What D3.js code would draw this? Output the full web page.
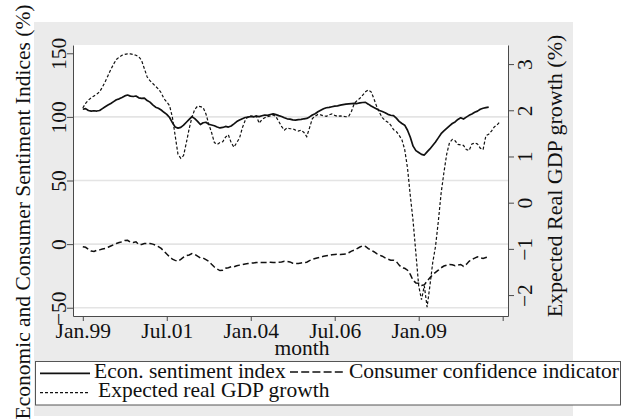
<!DOCTYPE html>
<html>
<head>
<meta charset="utf-8">
<script src="https://cdn.jsdelivr.net/npm/d3@7"></script>
<style>
  body { margin: 0; background: #fff; }
  svg { display: block; }
  text { font-family: "Liberation Serif", "Times New Roman", serif; fill: #111; }
</style>
</head>
<body>
<svg id="chart" width="626" height="419"></svg>
<script>
// Monthly series, index 0 = January 1999
const econSentiment = [
  106.0,106.5,105.0,104.5,104.8,104.6,105.0,106.5,108.0,109.3,
  110.5,112.0,113.5,114.2,115.3,116.5,117.2,116.3,116.0,116.4,
  115.0,114.6,114.8,112.8,111.6,109.5,107.6,106.8,105.4,103.6,
  102.0,99.5,95.5,92.0,91.2,91.8,93.5,95.8,98.0,100.2,
  98.6,96.5,94.0,95.4,95.8,94.2,93.6,93.0,92.0,91.3,
  91.7,92.5,92.0,92.8,94.5,96.3,97.5,98.6,99.5,99.8,
  100.3,100.0,100.6,100.2,100.9,101.5,101.2,101.9,102.4,101.8,
  101.0,100.3,99.3,98.5,98.2,97.6,97.5,97.8,98.0,98.5,
  98.8,100.0,101.5,102.5,104.0,105.2,106.4,107.2,107.5,108.0,
  108.5,108.7,109.2,109.6,110.0,110.2,110.4,110.6,110.5,111.0,
  111.3,111.4,110.0,108.5,107.3,106.2,105.0,104.2,103.3,102.0,
  101.3,101.0,99.0,96.5,94.8,93.5,89.5,84.0,77.0,73.5,
  72.0,70.5,70.0,72.5,74.8,77.5,80.3,83.5,86.8,89.0,
  91.0,93.0,94.8,96.0,98.0,99.3,98.3,99.8,101.2,102.3,
  103.6,104.5,106.0,106.8,107.3,107.7
];
const consumerConfidence = [
  -2.0,-2.5,-4.0,-5.5,-5.8,-4.8,-4.5,-3.8,-3.4,-2.5,
  -1.5,-0.5,0.5,1.2,1.8,2.8,3.0,1.5,1.3,1.8,
  -0.5,-0.3,0.5,0.6,0.4,0.0,-0.8,-2.0,-3.4,-5.5,
  -7.8,-10.0,-11.8,-12.8,-13.4,-12.0,-10.2,-9.0,-8.5,-7.4,
  -8.0,-9.5,-10.8,-11.0,-12.2,-13.5,-15.8,-18.0,-19.6,-20.8,
  -20.5,-19.0,-18.5,-17.8,-17.8,-17.0,-16.5,-16.0,-15.6,-15.2,
  -15.0,-14.8,-14.4,-14.3,-14.4,-14.4,-14.5,-14.3,-14.4,-14.4,
  -14.3,-14.0,-13.5,-13.6,-14.0,-15.0,-15.2,-15.2,-14.8,-14.5,
  -14.2,-13.0,-12.0,-11.3,-10.8,-10.2,-9.6,-9.2,-8.8,-8.3,
  -8.1,-8.0,-8.2,-7.9,-7.8,-6.8,-5.5,-4.7,-3.5,-2.3,
  -1.3,-1.8,-3.5,-4.8,-6.0,-7.5,-8.6,-9.5,-10.8,-11.8,
  -12.6,-12.6,-13.6,-16.5,-18.6,-19.0,-20.5,-23.8,-28.5,-30.5,
  -30.8,-32.5,-32.0,-29.0,-26.5,-24.0,-22.2,-20.5,-18.6,-17.2,
  -16.5,-16.0,-16.2,-17.0,-16.5,-16.0,-17.5,-16.0,-13.5,-12.0,
  -11.0,-10.0,-10.8,-11.3,-10.5,-10.0
];
const expectedGdp = [
  2.05,2.15,2.22,2.27,2.31,2.35,2.40,2.50,2.62,2.75,
  2.88,3.00,3.10,3.15,3.19,3.21,3.22,3.22,3.21,3.19,
  3.16,3.08,2.90,2.72,2.64,2.58,2.52,2.46,2.38,2.25,
  2.18,2.10,1.85,1.45,1.05,0.96,1.02,1.30,1.60,1.85,
  2.02,2.09,2.08,2.06,1.92,1.70,1.52,1.30,1.26,1.30,
  1.32,1.42,1.47,1.30,1.20,1.30,1.40,1.62,1.78,1.86,
  1.88,1.87,1.88,1.72,1.80,1.84,1.86,1.88,1.90,1.86,
  1.76,1.65,1.57,1.62,1.60,1.60,1.57,1.55,1.57,1.52,
  1.43,1.62,1.82,1.87,1.91,1.90,1.88,1.87,1.90,1.92,
  1.89,1.87,1.88,1.87,1.86,1.87,1.98,2.15,2.21,2.26,
  2.33,2.40,2.44,2.40,2.25,2.08,1.95,1.84,1.78,1.74,
  1.68,1.58,1.54,1.46,1.36,1.15,0.75,0.15,-0.40,-1.10,
  -1.80,-2.10,-1.80,-2.26,-1.80,-1.30,-0.95,-0.41,0.20,0.65,
  1.05,1.30,1.37,1.34,1.26,1.25,1.24,1.15,1.13,1.27,
  1.29,1.27,1.18,1.15,1.45,1.48,1.55,1.64,1.68,1.75
];

const xTickMonths = [0, 30, 60, 90, 120, 150];
const xTickLabels = ["Jan.99", "Jul.01", "Jan.04", "Jul.06", "Jan.09", ""];
const leftTicks = [-50, 0, 50, 100, 150];
const leftGridValues = [-50, 0, 50, 100];
const rightTicks = [-2, -1, 0, 1, 2, 3];

const seriesNames = ["Econ. sentiment index", "Consumer confidence indicator", "Expected real GDP growth"];
const xTitle = "month";
const leftTitle = "Economic and Consumer Sentiment Indices (%)";
const rightTitle = "Expected Real GDP growth (%)";

// Layout
const plot = { left: 73, right: 508, top: 45, bottom: 316 };
const ink = "#111";
const axisColor = "#4a4a4a";

const svg = d3.select("#chart");

// Graph region background
svg.append("rect").attr("x", 34).attr("y", 22).attr("width", 539).attr("height", 394).attr("fill", "#ebebeb");
// Plot region
svg.append("rect").attr("x", plot.left).attr("y", plot.top)
  .attr("width", plot.right - plot.left).attr("height", plot.bottom - plot.top).attr("fill", "#fff");

const x = d3.scaleLinear().domain([-3.5, 151.9]).range([plot.left, plot.right]);
const yL = d3.scaleLinear().domain([-56.5, 156.5]).range([plot.bottom, plot.top]);
const yR = d3.scaleLinear().domain([-2.453, 3.413]).range([plot.bottom, plot.top]);

// Horizontal grid lines
svg.append("g").selectAll("line").data(leftGridValues).join("line")
  .attr("x1", plot.left).attr("x2", plot.right)
  .attr("y1", d => yL(d)).attr("y2", d => yL(d))
  .attr("stroke", "#e4e4e4").attr("stroke-width", 1.6);

// Series
const lineL = d3.line().x((d, i) => x(i)).y(d => yL(d));
const lineR = d3.line().x((d, i) => x(i)).y(d => yR(d));

svg.append("path").datum(consumerConfidence).attr("d", lineL)
  .attr("fill", "none").attr("stroke", ink).attr("stroke-width", 1.5)
  .attr("stroke-dasharray", "6,3");
svg.append("path").datum(expectedGdp).attr("d", lineR)
  .attr("fill", "none").attr("stroke", ink).attr("stroke-width", 1.2)
  .attr("stroke-dasharray", "3,2");
svg.append("path").datum(econSentiment).attr("d", lineL)
  .attr("fill", "none").attr("stroke", ink).attr("stroke-width", 1.7)
  .attr("stroke-linejoin", "round");

function styleAxis(g) {
  g.select(".domain").attr("stroke", axisColor).attr("stroke-width", 1);
  g.selectAll(".tick line").attr("stroke", axisColor).attr("stroke-width", 1);
  g.selectAll(".tick text").attr("fill", ink)
    .style("font-family", '"Liberation Serif", "Times New Roman", serif')
    .style("font-size", "21.5px");
}

// Left axis
const gL = svg.append("g").attr("transform", `translate(${plot.left},0)`)
  .call(d3.axisLeft(yL).tickValues(leftTicks).tickSize(6).tickSizeOuter(0).tickFormat(d => d < 0 ? "\u2212" + Math.abs(d) : d));
styleAxis(gL);
gL.selectAll(".tick text").attr("x", null).attr("dy", null)
  .attr("text-anchor", "middle").attr("transform", "translate(-7,0) rotate(-90)");

// Right axis
const gR = svg.append("g").attr("transform", `translate(${plot.right},0)`)
  .call(d3.axisRight(yR).tickValues(rightTicks).tickSize(6).tickSizeOuter(0).tickFormat(d => d < 0 ? "\u2212" + Math.abs(d) : d));
styleAxis(gR);
gR.selectAll(".tick text").attr("x", null).attr("dy", null)
  .attr("text-anchor", "middle").attr("transform", "translate(23.5,0) rotate(-90)");

// Bottom axis
const gB = svg.append("g").attr("transform", `translate(0,${plot.bottom})`)
  .call(d3.axisBottom(x).tickValues(xTickMonths).tickSize(5).tickSizeOuter(0).tickFormat((d, i) => xTickLabels[i]));
styleAxis(gB);
gB.selectAll(".tick text").attr("y", 22).attr("dy", null).attr("text-anchor", "middle");

// Axis titles
svg.append("text").attr("x", 302).attr("y", 355).attr("text-anchor", "middle")
  .style("font-size", "21.5px").text(xTitle);
svg.append("text").attr("transform", "translate(30,212) rotate(-90)").attr("text-anchor", "middle")
  .style("font-size", "21.5px").text(leftTitle);
svg.append("text").attr("transform", "translate(562,176) rotate(-90)").attr("text-anchor", "middle")
  .style("font-size", "22px").text(rightTitle);

// Legend
const legend = svg.append("g");
legend.append("rect").attr("x", 35.5).attr("y", 361.5).attr("width", 585).attr("height", 43.5)
  .attr("fill", "#fff").attr("stroke", "#555").attr("stroke-width", 1);

const legendItems = [
  { name: seriesNames[0], x1: 40, x2: 90, y: 373.3, tx: 94, ty: 378, dash: null, w: 1.7 },
  { name: seriesNames[1], x1: 290, x2: 346, y: 372, tx: 349, ty: 378, dash: "8,3.2", w: 1.5 },
  { name: seriesNames[2], x1: 40, x2: 88, y: 392.7, tx: 98, ty: 397, dash: "3,2", w: 1.2 }
];
legendItems.forEach(it => {
  legend.append("line").attr("x1", it.x1).attr("x2", it.x2).attr("y1", it.y).attr("y2", it.y)
    .attr("stroke", ink).attr("stroke-width", it.w).attr("stroke-dasharray", it.dash);
  legend.append("text").attr("x", it.tx).attr("y", it.ty).style("font-size", "21.5px").text(it.name);
});
</script>
</body>
</html>
